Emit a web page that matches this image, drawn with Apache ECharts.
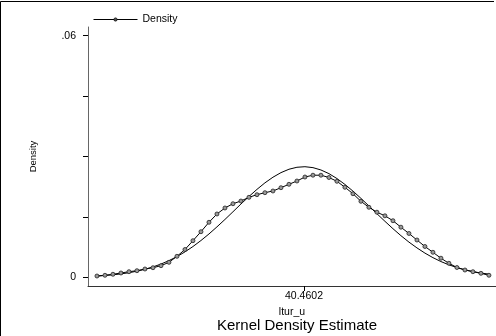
<!DOCTYPE html>
<html>
<head>
<meta charset="utf-8">
<style>
  html, body { margin: 0; padding: 0; background: #fff; }
  #chart { width: 496px; height: 336px; }
</style>
<script src="https://cdn.jsdelivr.net/npm/echarts@6.0.0/dist/echarts.min.js"></script>
</head>
<body>
<div id="chart"></div>
<script>
// evaluation points of the kernel estimate (ltur_u)
const xPoints = [
  -2.94, -1.26, 0.41, 2.09, 3.77, 5.44, 7.12, 8.80, 10.48, 12.15,
  13.83, 15.51, 17.18, 18.86, 20.54, 22.21, 23.89, 25.57, 27.24, 28.92,
  30.60, 32.27, 33.95, 35.63, 37.31, 38.98, 40.66, 42.34, 44.01, 45.69,
  47.37, 49.04, 50.72, 52.40, 54.07, 55.75, 57.43, 59.11, 60.78, 62.46,
  64.14, 65.81, 67.49, 69.17, 70.84, 72.52, 74.20, 75.87, 77.55, 79.23
];
// kernel density values
const kdeValues = [
  0.00032, 0.0005, 0.00075, 0.00107, 0.00139, 0.00164, 0.00206, 0.00238, 0.00288, 0.00372,
  0.00521, 0.0069, 0.00909, 0.01132, 0.01366, 0.01572, 0.01721, 0.01827, 0.01894, 0.01986,
  0.02051, 0.02101, 0.02143, 0.02225, 0.02309, 0.02391, 0.0249, 0.02535, 0.02535, 0.02478,
  0.02384, 0.02235, 0.02076, 0.01887, 0.01738, 0.01616, 0.01527, 0.01405, 0.01244, 0.01088,
  0.00926, 0.00765, 0.00621, 0.00474, 0.00348, 0.00243, 0.00181, 0.00139, 0.00099, 0.0005
];
// normal density overlay
const normalValues = [
  0.00032, 0.00045, 0.00062, 0.00085, 0.00114, 0.00152, 0.00199, 0.00258, 0.00329, 0.00414,
  0.00514, 0.00631, 0.00764, 0.00913, 0.01076, 0.01252, 0.01436, 0.01627, 0.01819, 0.02006,
  0.02183, 0.02345, 0.02485, 0.02599, 0.02683, 0.02732, 0.02746, 0.02723, 0.02665, 0.02574,
  0.02452, 0.02306, 0.0214, 0.0196, 0.01771, 0.01579, 0.0139, 0.01207, 0.01034, 0.00874,
  0.0073, 0.00601, 0.00488, 0.00391, 0.0031, 0.00242, 0.00186, 0.00142, 0.00106, 0.00079
];
const xTicks = [40.4602];
const yTicks = [0, 0.015, 0.03, 0.045, 0.06];
const yTickLabels = [0, 0.06];

const font = "Liberation Sans";
const chart = echarts.init(document.getElementById("chart"));

const option = {
  animation: false,
  backgroundColor: "#fff",
  textStyle: { fontFamily: font },
  title: {
    text: "Kernel Density Estimate",
    left: 292,
    textAlign: "center",
    top: 313,
    textStyle: { fontFamily: font, fontSize: 15, fontWeight: "normal", color: "#000" }
  },
  legend: {
    data: ["Density"],
    left: 88,
    top: 9,
    itemWidth: 44,
    itemHeight: 4,
    itemGap: 5,
    lineStyle: { width: 1, color: "#000" },
    itemStyle: { color: "#555", borderColor: "#000", borderWidth: 0.8 },
    textStyle: { fontFamily: font, fontSize: 10.5, color: "#000" }
  },
  grid: { left: 88, right: 0, top: 27, bottom: 50 },
  xAxis: {
    type: "value",
    min: -4.82,
    max: 80.71,
    name: "ltur_u",
    nameLocation: "middle",
    nameGap: 14,
    nameTextStyle: { fontFamily: font, fontSize: 10.5, color: "#000" },
    axisLine: { onZero: false, lineStyle: { color: "#333", width: 1 } },
    axisTick: { customValues: xTicks, length: 5, lineStyle: { color: "#000" } },
    axisLabel: {
      customValues: xTicks,
      margin: 5,
      fontSize: 10.5,
      color: "#000",
      formatter: (v) => "40.4602"
    },
    splitLine: { show: false }
  },
  yAxis: {
    type: "value",
    min: -0.00216,
    max: 0.06215,
    name: "Density",
    nameLocation: "middle",
    nameGap: 50,
    nameTextStyle: { fontFamily: font, fontSize: 9.5, color: "#000" },
    axisLine: { show: true, onZero: false, lineStyle: { color: "#666", width: 1 } },
    axisTick: { show: true, customValues: yTicks, length: 5, lineStyle: { color: "#000" } },
    axisLabel: {
      customValues: yTickLabels,
      margin: 12,
      fontSize: 10.5,
      color: "#000",
      formatter: (v) => (v === 0 ? "0" : String(v).replace(/^0/, ""))
    },
    splitLine: { show: false }
  },
  // outer frame: top and left edges only
  graphic: [
    {
      type: "polyline",
      x: 0,
      y: 0,
      shape: { points: [[0.5, 336], [0.5, 1.5], [494, 1.5]] },
      style: { stroke: "#000", lineWidth: 1, fill: null },
      silent: true
    }
  ],
  series: [
    {
      name: "Normal",
      type: "line",
      data: xPoints.map((x, i) => [x, normalValues[i]]),
      showSymbol: false,
      lineStyle: { color: "#000", width: 1 },
      z: 2
    },
    {
      name: "Density",
      type: "line",
      data: xPoints.map((x, i) => [x, kdeValues[i]]),
      symbol: "circle",
      symbolSize: 4,
      showSymbol: true,
      lineStyle: { color: "#000", width: 1 },
      itemStyle: { color: "#999", borderColor: "#222", borderWidth: 0.8 },
      z: 3
    }
  ]
};

chart.setOption(option);
</script>
</body>
</html>
